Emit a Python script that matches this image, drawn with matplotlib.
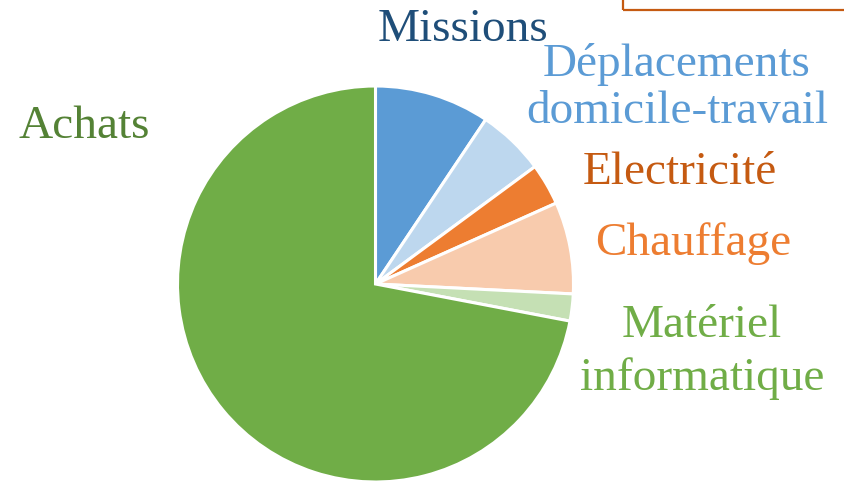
import matplotlib
matplotlib.use("Agg")
import matplotlib.pyplot as plt
from matplotlib.patches import Rectangle

# shares of the emissions, clockwise from 12 o'clock
categories = ["Missions", "Déplacements\ndomicile-travail", "Electricité",
              "Chauffage", "Matériel\ninformatique", "Achats"]
values = [9.4, 5.5, 3.4, 7.5, 2.2, 72.0]
wedge_colors = ["#5B9BD5", "#BDD7EE", "#ED7D31", "#F8CBAD", "#C5E0B4", "#70AD47"]
label_colors = ["#1F4E79", "#5B9BD5", "#C55A11", "#ED7D31", "#70AD47", "#548235"]

W, H = 844, 482
fig = plt.figure(figsize=(W / 100, H / 100), dpi=100)

# pie centre and radius in pixels
cx, cy, r = 375.5, 284, 198
ax = fig.add_axes([(cx - r) / W, (H - cy - r) / H, 2 * r / W, 2 * r / H])
ax.pie(values, colors=wedge_colors, startangle=90, counterclock=False,
       radius=1.0, wedgeprops=dict(edgecolor="white", linewidth=2.2))
ax.set_xlim(-1, 1)
ax.set_ylim(-1, 1)
ax.set_aspect("auto")
ax.axis("off")

# label placement: pixel x centre and the baseline of each line
label_x = [463, 677, 680, 693, 702, 84]
label_baselines = [[41], [76, 123], [184], [255], [337, 390], [138]]
for text, col, x, bases in zip(categories, label_colors, label_x, label_baselines):
    for line, y in zip(text.split("\n"), bases):
        fig.text(x / W, 1 - y / H, line, color=col, fontsize=34,
                 family="Liberation Serif", ha="center", va="baseline")

# box edge peeking in at the top right
fig.patches.append(Rectangle((623 / W, 1 - 10 / H), (W - 623 + 10) / W, 30 / H,
                             transform=fig.transFigure, fill=False,
                             edgecolor="#C55A11", linewidth=1.6))

fig.savefig("out.png", dpi=100)
